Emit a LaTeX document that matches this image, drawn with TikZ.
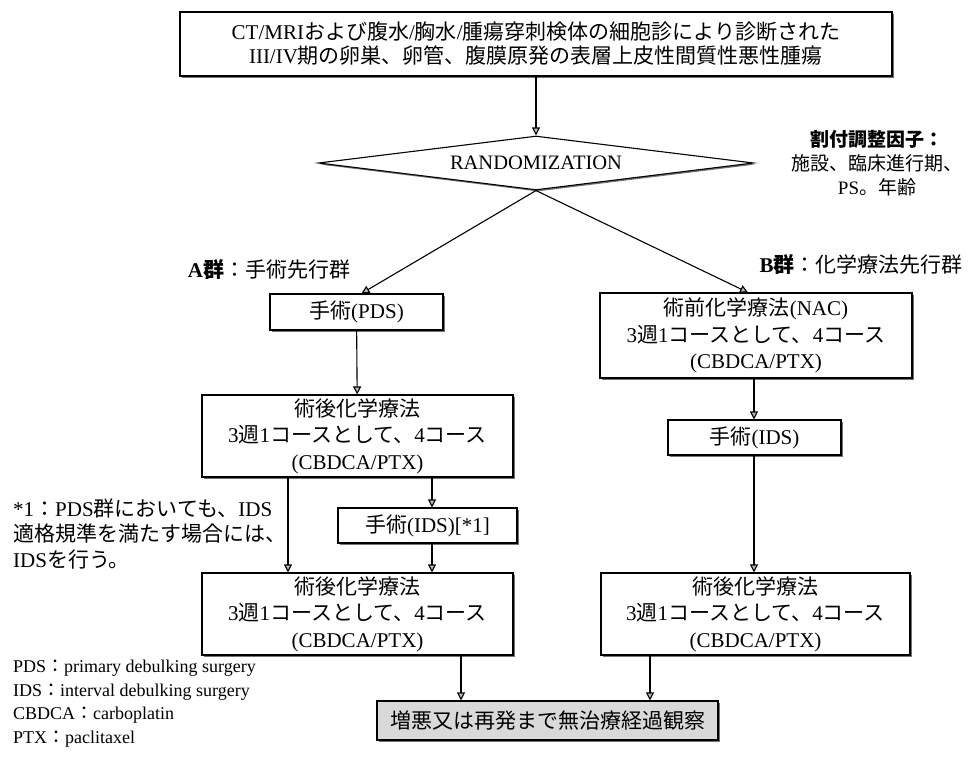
\documentclass[tikz,border=0pt]{standalone}
\usepackage{fontspec}
\setmainfont{Liberation Serif}
\newfontfamily\jpfont{Noto Sans CJK JP}
\newcommand{\jpt}[1]{{\jpfont #1}}
\usetikzlibrary{arrows.meta,shapes.geometric,shadows}
\begin{document}
\begin{tikzpicture}[x=1pt,y=-1pt,
  shad/.style={drop shadow={shadow xshift=1.6pt, shadow yshift=-1.6pt, fill=black!55, opacity=1}},
  box/.style={draw=black, line width=1.1pt, fill=white, inner sep=0pt, align=center,
    font=\fontsize{21}{26.5}\selectfont, shad},
  arr/.style={line width=1.1pt, -{Triangle[length=8pt,width=8pt,fill=gray!55]}},
  lbl/.style={inner sep=0pt, font=\fontsize{21}{26}\selectfont, align=left},
]
\useasboundingbox (0,0) rectangle (970,758);

% top box
\node[box, minimum width=712pt, minimum height=64pt, font=\fontsize{21}{24}\selectfont] (top) at (536,44)
  {CT/MRI\jpt{および腹水}/\jpt{胸水}/\jpt{腫瘍穿刺検体の細胞診により診断された}\\
   III/IV\jpt{期の卵巣、卵管、腹膜原発の表層上皮性間質性悪性腫瘍}};

% randomization
\node[draw=black, diamond, aspect=8.05, line width=1.1pt, fill=white, minimum width=435pt,
  minimum height=54pt, inner sep=0pt, font=\fontsize{20.5}{24}\selectfont, shad] (rand) at (536,163) {RANDOMIZATION};

\node[lbl, align=center, font=\fontsize{19}{24}\selectfont] (fact) at (877,163)
  {\textbf{\jpt{割付調整因子：}}\\\jpt{施設、臨床進行期、}\\PS\jpt{。年齢}};

% group labels
\node[lbl] (ga) at (269,270) {\textbf{A\jpt{群}}\jpt{：手術先行群}};
\node[lbl] (gb) at (861,265) {\textbf{B\jpt{群}}\jpt{：化学療法先行群}};

% group A
\node[box, minimum width=173pt, minimum height=36pt] (pds) at (356.5,312) {\jpt{手術}(PDS)};
\node[box, minimum width=311pt, minimum height=82pt] (chA) at (357.5,436)
  {\jpt{術後化学療法}\\3\jpt{週}1\jpt{コースとして、}4\jpt{コース}\\(CBDCA/PTX)};
\node[box, minimum width=179pt, minimum height=35pt] (idsA) at (427.5,525.5) {\jpt{手術}(IDS)[*1]};
\node[box, minimum width=311pt, minimum height=82pt] (botA) at (357.5,614)
  {\jpt{術後化学療法}\\3\jpt{週}1\jpt{コースとして、}4\jpt{コース}\\(CBDCA/PTX)};

% group B
\node[box, minimum width=312pt, minimum height=85pt] (nac) at (756,335.5)
  {\jpt{術前化学療法}(NAC)\\3\jpt{週}1\jpt{コースとして、}4\jpt{コース}\\(CBDCA/PTX)};
\node[box, minimum width=173pt, minimum height=35pt] (idsB) at (754.5,437.5) {\jpt{手術}(IDS)};
\node[box, minimum width=309pt, minimum height=82pt] (botB) at (755.5,614)
  {\jpt{術後化学療法}\\3\jpt{週}1\jpt{コースとして、}4\jpt{コース}\\(CBDCA/PTX)};

% final
\node[box, fill=gray!30, minimum width=341pt, minimum height=39pt, font=\fontsize{21}{24}\selectfont] (fin) at (547.5,720.5)
  {\jpt{増悪又は再発まで無治療経過観察}};

% footnote and legend
\node[lbl, anchor=west, font=\fontsize{21}{25.5}\selectfont] (fn) at (13,534)
  {*1\jpt{：}PDS\jpt{群においても、}IDS\\\jpt{適格規準を満たす場合には、}\\IDS\jpt{を行う。}};
\node[lbl, anchor=north west, font=\fontsize{18}{23.5}\selectfont] (leg) at (13,660)
  {PDS\jpt{：}primary debulking surgery\\IDS\jpt{：}interval debulking surgery\\CBDCA\jpt{：}carboplatin\\PTX\jpt{：}paclitaxel};

% helper x positions
\coordinate (xl) at (288,0);
\coordinate (xr) at (432,0);
\coordinate (xb) at (754,0);
\coordinate (xfa) at (461,0);
\coordinate (xfb) at (650,0);

% connectors
\draw[arr] (top) -- (rand);
\draw[arr] (rand.south) -- ([xshift=5pt]pds.north);
\draw[arr] (rand.south) -- ([xshift=-8pt]nac.north);
\draw[arr] (pds) -- (chA);
\draw[arr] (chA.south -| xl) -- (botA.north -| xl);
\draw[arr] (chA.south -| xr) -- (idsA.north -| xr);
\draw[arr] (idsA.south -| xr) -- (botA.north -| xr);
\draw[arr] (nac.south -| xb) -- (idsB.north -| xb);
\draw[arr] (idsB.south -| xb) -- (botB.north -| xb);
\draw[arr] (botA.south -| xfa) -- (fin.north -| xfa);
\draw[arr] (botB.south -| xfb) -- (fin.north -| xfb);
\end{tikzpicture}
\end{document}
